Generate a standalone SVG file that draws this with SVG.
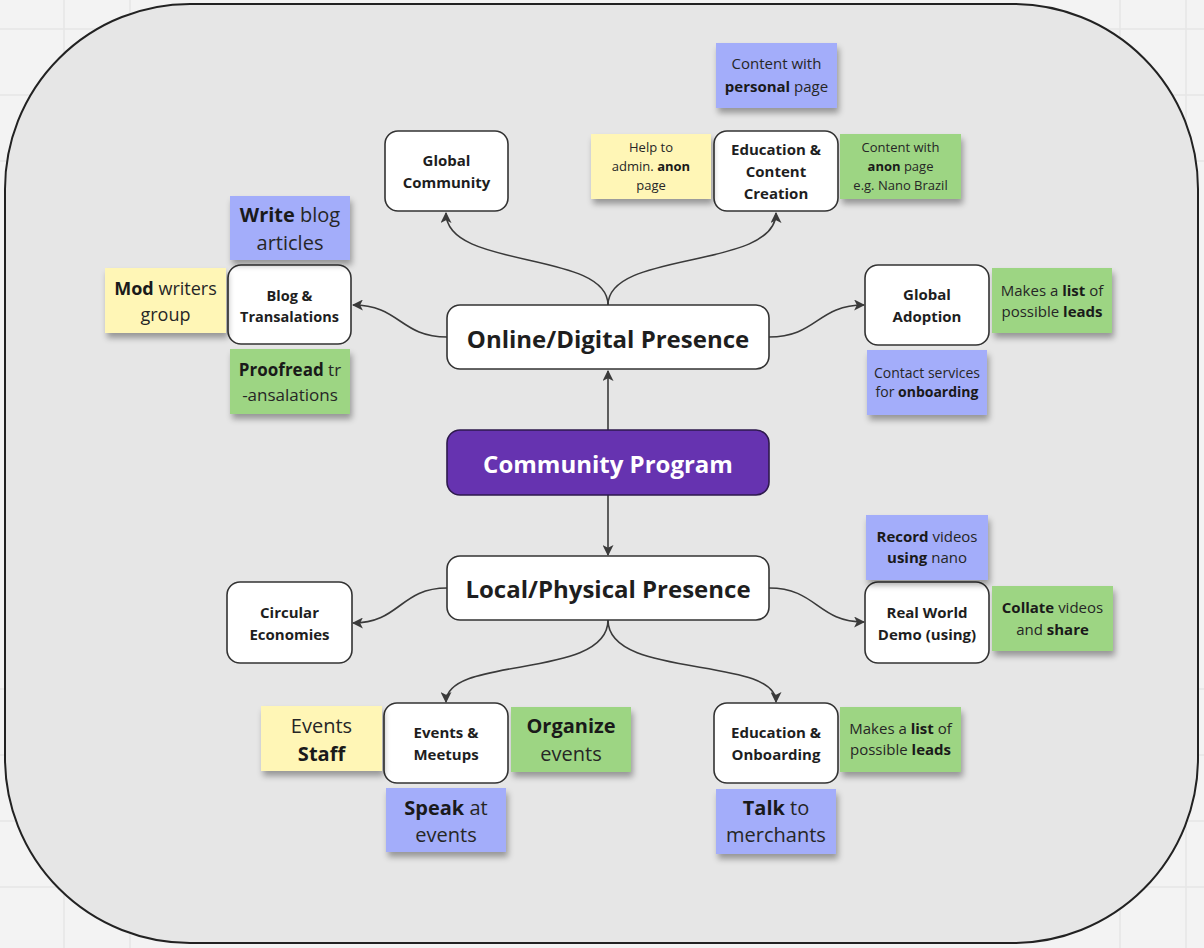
<svg xmlns="http://www.w3.org/2000/svg" width="1204" height="948" viewBox="0 0 1204 948">
<defs>
<style>
.grid{stroke:#e6e6e6;stroke-width:1.5}
.node rect{fill:#ffffff;stroke:#333333;stroke-width:1.6}
.nt{font-family:"Open Sans","Noto Sans","Liberation Sans",sans-serif;font-weight:700;fill:#1e1e1e;text-anchor:middle;dominant-baseline:central}
.big{font-size:24px}
.sm{font-size:15px}
.st{font-family:"Open Sans","Noto Sans","Liberation Sans",sans-serif;font-weight:400;fill:#262626;text-anchor:middle;dominant-baseline:central}
.b{font-weight:700;fill:#1a1a1a}
.blue{fill:#a3adfa}
.yellow{fill:#fff6b6}
.green{fill:#9dd583}
.conn path{fill:none;stroke:#3a3a3a;stroke-width:1.6}
</style>
<marker id="arr" viewBox="0 0 10 10" refX="9" refY="5" markerWidth="11" markerHeight="11" markerUnits="userSpaceOnUse" orient="auto">
<path d="M0,0 L10,5 L0,10 L2.5,5 Z" fill="#3a3a3a"/>
</marker>
<filter id="sh" x="-20%" y="-20%" width="140%" height="160%">
<feGaussianBlur in="SourceAlpha" stdDeviation="3"/>
<feOffset dx="2" dy="5" result="o"/>
<feComponentTransfer><feFuncA type="linear" slope="0.35"/></feComponentTransfer>
<feMerge><feMergeNode/><feMergeNode in="SourceGraphic"/></feMerge>
</filter>
</defs>

<rect x="0" y="0" width="1204" height="948" fill="#f3f3f3"/>
<g id="grid">
<path class="grid" d="M64,0V948M130,0V948M1120,0V948M1186,0V948M0,29H1204M0,95H1204M0,161H1204M0,689H1204M0,755H1204M0,821H1204M0,887H1204"/>
</g>
<rect id="frame" x="5" y="4" width="1193" height="939" rx="185" ry="185" fill="#e6e6e6" stroke="#222222" stroke-width="2"/>

<g id="connectors" class="conn">
<path d="M608,305 C608,250 446,270 446,213" marker-end="url(#arr)"/>
<path d="M608,305 C608,250 776,270 776,213" marker-end="url(#arr)"/>
<path d="M447,337 C400,337 400,305 353,305" marker-end="url(#arr)"/>
<path d="M769,337 C817,337 817,305 864,305" marker-end="url(#arr)"/>
<path d="M608,430 L608,371" marker-end="url(#arr)"/>
<path d="M608,495 L608,555" marker-end="url(#arr)"/>
<path d="M447,588 C400,588 400,623 353,623" marker-end="url(#arr)"/>
<path d="M769,588 C817,588 817,622 864,622" marker-end="url(#arr)"/>
<path d="M608,620 C608,680 446,655 446,702" marker-end="url(#arr)"/>
<path d="M608,620 C608,680 776,655 776,702" marker-end="url(#arr)"/>
</g>

<g id="n-global-community" class="node">
<rect x="385" y="131" width="123" height="80" rx="13"/>
<text class="nt sm" x="446.5" y="160">Global</text>
<text class="nt sm" x="446.5" y="182">Community</text>
</g>
<g id="n-education-content" class="node">
<rect x="714" y="131" width="124" height="80" rx="13"/>
<text class="nt sm" x="776" y="149">Education &amp;</text>
<text class="nt sm" x="776" y="171">Content</text>
<text class="nt sm" x="776" y="193">Creation</text>
</g>
<g id="n-blog" class="node">
<rect x="228" y="265" width="123" height="79" rx="13"/>
<text class="nt" font-size="14.5" x="289.5" y="295">Blog &amp;</text>
<text class="nt" font-size="14.5" x="289.5" y="316">Transalations</text>
</g>
<g id="n-online" class="node">
<rect x="447" y="305" width="322" height="64" rx="13"/>
<text class="nt big" x="608" y="338">Online/Digital Presence</text>
</g>
<g id="n-global-adoption" class="node">
<rect x="865" y="265" width="124" height="80" rx="13"/>
<text class="nt sm" x="927" y="294">Global</text>
<text class="nt sm" x="927" y="316">Adoption</text>
</g>
<g id="n-community-program" class="node">
<rect x="447" y="430" width="322" height="65" rx="13" style="fill:#6633b0;stroke:#2e1a4d"/>
<text class="nt big" x="608" y="463" style="fill:#ffffff">Community Program</text>
</g>
<g id="n-local" class="node">
<rect x="447" y="556" width="322" height="64" rx="13"/>
<text class="nt big" x="608" y="588">Local/Physical Presence</text>
</g>
<g id="n-circular" class="node">
<rect x="227" y="582" width="125" height="81" rx="13"/>
<text class="nt sm" x="289.5" y="612">Circular</text>
<text class="nt sm" x="289.5" y="634">Economies</text>
</g>
<g id="n-real-world" class="node">
<rect x="865" y="582" width="124" height="81" rx="13"/>
<text class="nt sm" x="927" y="612">Real World</text>
<text class="nt sm" x="927" y="634">Demo (using)</text>
</g>
<g id="n-events" class="node">
<rect x="384" y="703" width="124" height="80" rx="13"/>
<text class="nt sm" x="446" y="732">Events &amp;</text>
<text class="nt sm" x="446" y="754">Meetups</text>
</g>
<g id="n-education-onboarding" class="node">
<rect x="714" y="703" width="124" height="80" rx="13"/>
<text class="nt sm" x="776" y="732">Education &amp;</text>
<text class="nt sm" x="776" y="754">Onboarding</text>
</g>

<g id="s-content-personal">
<rect class="blue" x="716" y="43" width="121" height="65" filter="url(#sh)"/>
<text class="st" font-size="15" x="776.5" y="63">Content with</text>
<text class="st" font-size="15" x="776.5" y="86"><tspan class="b">personal</tspan> page</text>
</g>
<g id="s-help-admin">
<rect class="yellow" x="591" y="134" width="120" height="65" filter="url(#sh)"/>
<text class="st" font-size="13" x="651" y="147">Help to</text>
<text class="st" font-size="13" x="651" y="166">admin. <tspan class="b">anon</tspan></text>
<text class="st" font-size="13" x="651" y="185">page</text>
</g>
<g id="s-content-anon">
<rect class="green" x="840" y="134" width="121" height="65" filter="url(#sh)"/>
<text class="st" font-size="13" x="900.5" y="147">Content with</text>
<text class="st" font-size="13" x="900.5" y="166"><tspan class="b">anon</tspan> page</text>
<text class="st" font-size="13" x="900.5" y="185">e.g. Nano Brazil</text>
</g>
<g id="s-write-blog">
<rect class="blue" x="230" y="196" width="120" height="64" filter="url(#sh)"/>
<text class="st" font-size="20" x="290" y="214"><tspan class="b">Write</tspan> blog</text>
<text class="st" font-size="20" x="290" y="242">articles</text>
</g>
<g id="s-mod-writers">
<rect class="yellow" x="105" y="268" width="121" height="65" filter="url(#sh)"/>
<text class="st" font-size="18" x="165.5" y="288"><tspan class="b">Mod</tspan> writers</text>
<text class="st" font-size="18" x="165.5" y="314">group</text>
</g>
<g id="s-proofread">
<rect class="green" x="230" y="349" width="120" height="65" filter="url(#sh)"/>
<text class="st" font-size="17" x="290" y="369"><tspan class="b">Proofread</tspan> tr</text>
<text class="st" font-size="17" x="290" y="394">-ansalations</text>
</g>
<g id="s-leads-top">
<rect class="green" x="992" y="268" width="120" height="65" filter="url(#sh)"/>
<text class="st" font-size="15" x="1052" y="290">Makes a <tspan class="b">list</tspan> of</text>
<text class="st" font-size="15" x="1052" y="311">possible <tspan class="b">leads</tspan></text>
</g>
<g id="s-contact-services">
<rect class="blue" x="867" y="350" width="120" height="65" filter="url(#sh)"/>
<text class="st" font-size="14" x="927" y="372">Contact services</text>
<text class="st" font-size="14" x="927" y="391">for <tspan class="b">onboarding</tspan></text>
</g>
<g id="s-record-videos">
<rect class="blue" x="866" y="515" width="122" height="65" filter="url(#sh)"/>
<text class="st" font-size="15" x="927" y="536"><tspan class="b">Record</tspan> videos</text>
<text class="st" font-size="15" x="927" y="557"><tspan class="b">using</tspan> nano</text>
</g>
<g id="s-collate">
<rect class="green" x="992" y="586" width="121" height="65" filter="url(#sh)"/>
<text class="st" font-size="15" x="1052.5" y="607"><tspan class="b">Collate</tspan> videos</text>
<text class="st" font-size="15" x="1052.5" y="629">and <tspan class="b">share</tspan></text>
</g>
<g id="s-events-staff">
<rect class="yellow" x="261" y="706" width="121" height="65" filter="url(#sh)"/>
<text class="st" font-size="20" x="321.5" y="725">Events</text>
<text class="st" font-size="20" x="321.5" y="753"><tspan class="b">Staff</tspan></text>
</g>
<g id="s-organize">
<rect class="green" x="511" y="707" width="120" height="65" filter="url(#sh)"/>
<text class="st" font-size="20" x="571" y="725"><tspan class="b">Organize</tspan></text>
<text class="st" font-size="20" x="571" y="753">events</text>
</g>
<g id="s-speak">
<rect class="blue" x="386" y="788" width="120" height="64" filter="url(#sh)"/>
<text class="st" font-size="20" x="446" y="807"><tspan class="b">Speak</tspan> at</text>
<text class="st" font-size="20" x="446" y="834">events</text>
</g>
<g id="s-leads-bottom">
<rect class="green" x="840" y="707" width="121" height="65" filter="url(#sh)"/>
<text class="st" font-size="15" x="900.5" y="728">Makes a <tspan class="b">list</tspan> of</text>
<text class="st" font-size="15" x="900.5" y="749">possible <tspan class="b">leads</tspan></text>
</g>
<g id="s-talk">
<rect class="blue" x="716" y="789" width="120" height="65" filter="url(#sh)"/>
<text class="st" font-size="20" x="776" y="807"><tspan class="b">Talk</tspan> to</text>
<text class="st" font-size="20" x="776" y="834">merchants</text>
</g>
</svg>
